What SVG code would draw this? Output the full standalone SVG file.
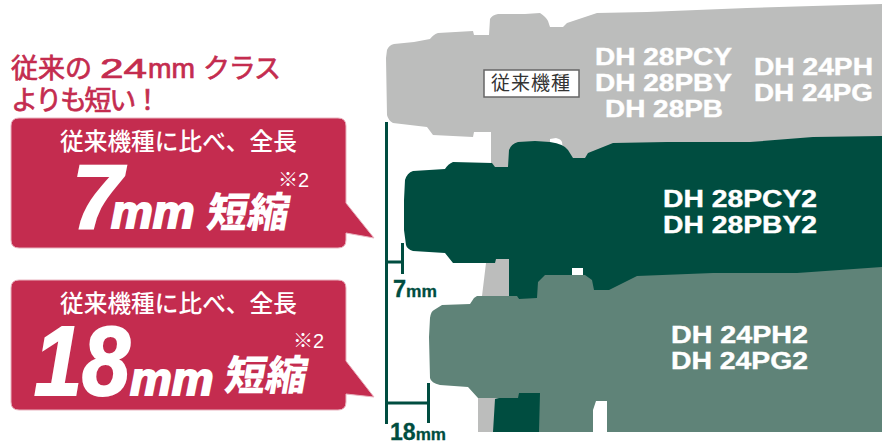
<svg xmlns="http://www.w3.org/2000/svg" width="882" height="443" viewBox="0 0 882 443">
<style>
.bub{fill:#c42c4f;stroke:#e9b4c0;stroke-width:1}
.cjk{font-family:"Noto Sans CJK JP","Noto Sans",sans-serif}
.lat{font-family:"Liberation Sans",Arial,sans-serif}
.title{fill:#c42c4f;stroke:#c42c4f;stroke-width:.7;font-size:27px;font-weight:400}
.head{fill:#fff;font-size:23.7px;font-weight:500}
.num{fill:#fff;stroke:#fff;stroke-width:2;font-weight:700;font-style:italic}
.short{fill:#fff;font-size:41px;font-weight:900}
.note{fill:#fff;font-size:20px}
.model{fill:#fff;stroke:#fff;stroke-width:.4;font-size:23.5px;font-weight:700}
.rule{fill:none;stroke:#004d40;stroke-width:3}
.dim{fill:#004d40;stroke:#004d40;stroke-width:.3;font-family:"Liberation Sans",Arial,sans-serif;font-weight:700}
</style>
<rect width="882" height="443" fill="#fff"/>
<g id="tool-old">
<path fill="#bcbdbc" d="M386 58L387 50Q389 45 394 44L414 42L430 39Q434 34 438 33L473 31L474 35L489 35L490 19Q492 15 498 14L525 14L540 13Q546 17 548 21L550 27L563 27L567 23L597 13L647 12L697 10L747 8L813 6L882 4V200H560V432H478V398L482 296L486 263L491 165L491 132L474 132L473 137L433 135L427 127L393 123Q388 120 387 115Z"/>
<path fill="#fff" d="M550 139L556 138Q561 139 562 142L563 150L550 150Z"/>
<rect x="484" y="70" width="95" height="27" fill="#fff" stroke="#666" stroke-width="1.500"/>
<text class="cjk" x="531" y="90" text-anchor="middle" font-size="19" letter-spacing="1" fill="#333">従来機種</text>
<g class="lat model">
<text x="595" y="65" textLength="137" lengthAdjust="spacingAndGlyphs">DH 28PCY</text>
<text x="595" y="91" textLength="137" lengthAdjust="spacingAndGlyphs">DH 28PBY</text>
<text x="605" y="117" textLength="118" lengthAdjust="spacingAndGlyphs">DH 28PB</text>
<text x="754" y="75" textLength="119" lengthAdjust="spacingAndGlyphs">DH 24PH</text>
<text x="754" y="101" textLength="119" lengthAdjust="spacingAndGlyphs">DH 24PG</text>
</g>
</g>
<g id="tool-28">
<path fill="#004d40" d="M404 200L405 180Q407 173 413 171L445 169Q448 164 453 162L492 163L495 167L508 167L509 150Q511 144 518 142L535 141L550 142Q564 144 568 150L573 158L585 158L588 153L613 143L667 142L750 142L813 137L882 136V290H560V432H493L495 399L519 393V299L509 296V259L496 259L495 263L453 263L445 253L413 251Q407 249 406 245L404 230Z"/>
<rect x="572" y="268" width="11" height="12" fill="#fff"/>
<g class="lat model">
<text x="663" y="207" textLength="154" lengthAdjust="spacingAndGlyphs">DH 28PCY2</text>
<text x="663" y="233" textLength="154" lengthAdjust="spacingAndGlyphs">DH 28PBY2</text>
</g>
</g>
<g id="tool-24">
<path fill="#5f8378" d="M429 337L430 318Q431 311 434 310L442 305L470 304L474 298L477 296L517 296L519 299L537 298L538 282L545 275L585 275L592 280L594 290L609 290L637 276L713 273L797 273L882 267V432H607V401L596 401L593 410V432H539L540 393H519L518 398H478L468 387L440 385Q431 383 430 378Z"/>
<g class="lat model">
<text x="671" y="343" textLength="137" lengthAdjust="spacingAndGlyphs">DH 24PH2</text>
<text x="671" y="369" textLength="137" lengthAdjust="spacingAndGlyphs">DH 24PG2</text>
</g>
</g>
<g id="dimensions">
<path class="rule" d="M386.500 122V424M386 262H402.500M402.500 243V274M386 403H428.500M428.500 383V423"/>
<text class="dim" x="393" y="297" font-size="23" textLength="44" lengthAdjust="spacingAndGlyphs">7<tspan font-size="17">mm</tspan></text>
<text class="dim" x="390" y="440" font-size="23" textLength="56" lengthAdjust="spacingAndGlyphs">18<tspan font-size="17">mm</tspan></text>
</g>
<g id="heading">
<text class="cjk title" x="11" y="78">従来の</text>
<text class="lat title" x="100" y="78" textLength="47" lengthAdjust="spacingAndGlyphs">24</text>
<text class="lat title" x="148" y="78" textLength="47" lengthAdjust="spacingAndGlyphs">mm</text>
<text class="cjk title" x="203" y="78" textLength="78">クラス</text>
<text class="cjk title" x="11" y="110" textLength="150">よりも短い！</text>
</g>
<g id="callout-7mm">
<path class="bub" d="M19 118H338Q346 118 346 126V203L374 238L346 233V240Q346 248 338 248H19Q11 248 11 240V126Q11 118 19 118Z"/>
<text class="cjk head" x="60" y="150">従来機種に比べ、全長</text>
<text class="lat num" x="72" y="228" font-size="91">7</text>
<text class="lat num" x="111" y="228" font-size="47">mm</text>
<text class="cjk short" transform="translate(205 227) skewX(-10)">短縮</text>
<text class="cjk note" x="278" y="187">※<tspan class="lat">2</tspan></text>
</g>
<g id="callout-18mm">
<path class="bub" d="M19 280H338Q346 280 346 288V361L374 397L346 394V402Q346 410 338 410H19Q11 410 11 402V288Q11 280 19 280Z"/>
<text class="cjk head" x="60" y="312">従来機種に比べ、全長</text>
<text class="lat num" x="34" y="395" font-size="98" textLength="96" lengthAdjust="spacingAndGlyphs">18</text>
<text class="lat num" x="130" y="395" font-size="47">mm</text>
<text class="cjk short" transform="translate(223 390) skewX(-10)">短縮</text>
<text class="cjk note" x="293" y="348">※<tspan class="lat">2</tspan></text>
</g>
</svg>
